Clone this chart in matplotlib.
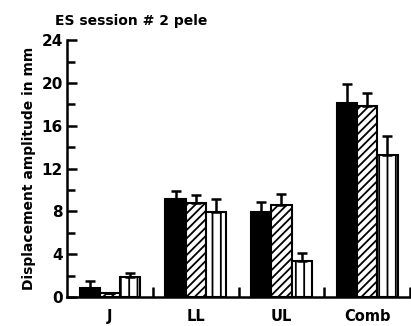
import numpy as np
import matplotlib
matplotlib.use('Agg')
import matplotlib.pyplot as plt

# data
groups = ['J', 'LL', 'UL', 'Comb']
solid = [0.8, 9.2, 7.9, 18.1]
solid_err = [0.7, 0.7, 1.0, 1.8]
diag = [0.4, 8.8, 8.6, 17.8]
diag_err = [0.0, 0.7, 1.0, 1.3]
vert = [1.9, 7.9, 3.4, 13.3]
vert_err = [0.3, 1.3, 0.7, 1.7]

plt.rcParams['font.family'] = 'DejaVu Sans'
plt.rcParams['hatch.linewidth'] = 1.3

fig = plt.figure(figsize=(4.11, 3.26), dpi=100)
ax = fig.add_axes([0.163, 0.089, 0.835, 0.788])

x = np.arange(len(groups)) + 0.5
w = 0.235
series = [(solid, solid_err, -w, 'black', ''),
          (diag, diag_err, 0.0, 'white', '////'),
          (vert, vert_err, w, 'white', '||')]
for vals, errs, off, fc, hatch in series:
    ax.bar(x + off, vals, width=w, color=fc, edgecolor='black',
           linewidth=1.5, hatch=hatch, zorder=2)
    ax.errorbar(x + off, vals, yerr=[np.zeros(len(errs)), errs], fmt='none',
                ecolor='black', elinewidth=1.8, capsize=3.5, capthick=1.8,
                zorder=3)

ax.set_xlim(0, 4)
ax.set_ylim(0, 24)
ax.spines['top'].set_visible(False)
ax.spines['right'].set_visible(False)
ax.spines['left'].set_linewidth(1.8)
ax.spines['bottom'].set_linewidth(1.8)

ax.set_yticks(np.arange(0, 25, 4))
ax.set_yticks(np.arange(2, 24, 4), minor=True)
ax.tick_params(axis='y', which='major', direction='in', length=7, width=1.8,
               labelsize=11, pad=3)
ax.tick_params(axis='y', which='minor', direction='in', length=6, width=1.8)

ax.set_xticks([1, 2, 3, 4])
ax.set_xticklabels([])
ax.tick_params(axis='x', direction='in', length=7, width=1.8)
for xi, g in zip(x, groups):
    ax.text(xi, -1.1, g, ha='center', va='top', fontsize=10.5, fontweight='bold')

for lab in ax.get_yticklabels():
    lab.set_fontweight('bold')

ax.set_ylabel('Displacement amplitude in mm', fontsize=10, fontweight='bold',
              labelpad=4)
fig.text(0.135, 0.935, 'ES session # 2 pele', fontsize=10, fontweight='bold',
         ha='left', va='center')

fig.savefig('out.png', dpi=100)
